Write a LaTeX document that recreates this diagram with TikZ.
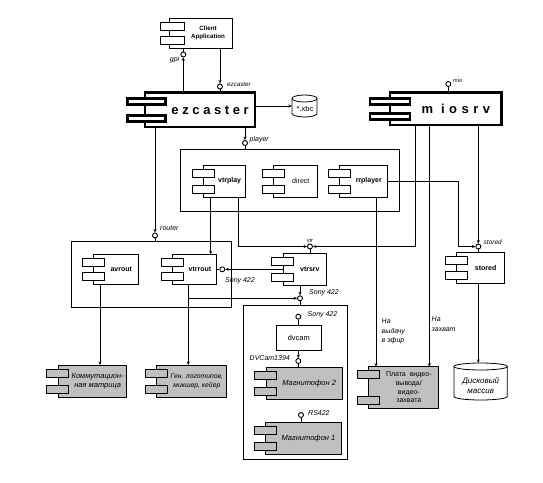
\documentclass[tikz,border=0pt]{standalone}
\usepackage{fontspec}
\setmainfont{Liberation Sans}
\usetikzlibrary{arrows.meta,calc}
\definecolor{boxgray}{RGB}{192,192,192}
\newcommand\boxnode[6]{\node[#6,minimum width={#4-#2},minimum height={#5-#3}] (#1) at ({(#2+#4)/2},{(#3+#5)/2}) {};}
\newcommand\comp[9]{%
 \node[body,#6,minimum width={#4-#2},minimum height={#5-#3}] (#1) at ({(#2+#4)/2},{(#3+#5)/2}) {};
 \draw[crect,#6] ({#2-#9},{#3+\ra}) rectangle ({#2-#9+\rw},{#3+\ra+\rh});
 \draw[crect,#6] ({#2-#9},{#5-\ra-\rh}) rectangle ({#2-#9+\rw},{#5-\ra});
 \node[ctext,#7] (#1-t) at ({(#2-#9+\rw+#4)/2},{(#3+#5)/2}) {#8};}
\newcommand\cyl[4]{% x1 y1 x2 y2
 \pgfmathsetmacro\crx{(#3-#1)/2}
 \draw[line width=0.8pt,fill=white] (#1,{#2+3.5}) -- (#1,{#4-3.5})
   arc[start angle=180,end angle=360,x radius=\crx pt,y radius=3.5pt]
   -- (#3,{#2+3.5}) arc[start angle=0,end angle=180,x radius=\crx pt,y radius=3.5pt] -- cycle;
 \draw[line width=0.8pt] (#1,{#2+3.5}) arc[start angle=180,end angle=360,x radius=\crx pt,y radius=3.5pt];}
\tikzset{
 body/.style={draw,line width=0.8pt,fill=white,inner sep=0,outer sep=0,rectangle},
 crect/.style={draw,line width=0.8pt,fill=white},
 heavy/.style={line width=2.6pt},
 grayc/.style={fill=boxgray},
 ctext/.style={font=\bfseries\fontsize{7}{8}\selectfont,inner sep=0,align=center},
 gtext/.style={font=\itshape\fontsize{7.5}{9}\selectfont,inner sep=0,align=center},
 lolli/.style={circle,draw,line width=0.9pt,fill=white,minimum size=5pt,inner sep=0},
 lbl/.style={font=\itshape\fontsize{7}{9.5}\selectfont,inner sep=0},
 tinylbl/.style={font=\itshape\fontsize{5.5}{6.5}\selectfont,inner sep=0},
 arr/.style={-{Stealth[length=3.5pt,width=3pt]}},
 grp/.style={draw,line width=0.8pt,inner sep=0,outer sep=0,rectangle},
 ln/.style={line width=0.8pt},
}
\begin{document}
\begin{tikzpicture}[x=1pt,y=-1pt]
\fill[white] (0,0) rectangle (543,482);
\useasboundingbox (0,0) rectangle (543,482);

% group boxes
\boxnode{plyG}{180}{149.3}{399}{211}{grp}
\boxnode{rtG}{71.7}{241.7}{231.7}{307.3}{grp}
\boxnode{dvG}{243.3}{305.7}{347.3}{459}{grp}

% components
\def\ra{4}\def\rh{8}\def\rw{23.3}
\comp{client}{169}{18}{232}{48}{}{font=\bfseries\fontsize{6.2}{8}\selectfont}{Client\\Application}{8.3}
\def\ra{5.5}\def\rh{6}\def\rw{38}
\comp{ezcaster}{145}{92.7}{255}{127}{heavy}{font=\bfseries\fontsize{13}{13}\selectfont}{e z c a s t e r}{17.7}
\def\rw{40}
\comp{miosrv}{390}{92.7}{501.7}{125}{heavy}{font=\bfseries\fontsize{13}{13}\selectfont}{m\hspace{8pt}i\hspace{4.5pt}o\hspace{4.5pt}s\hspace{4.5pt}r\hspace{4.5pt}v}{20}
\def\ra{4}\def\rh{8}\def\rw{22}
\comp{vtrplay}{203.3}{165}{245}{197}{}{}{vtrplay}{11}
\comp{direct}{273.3}{165}{317.3}{197}{}{font=\fontsize{7}{8}\selectfont}{direct}{11}
\comp{rrplayer}{339.3}{165}{387.3}{197}{}{}{rrplayer}{11}
\comp{avrout}{93.3}{254.3}{138.3}{284.3}{}{}{avrout}{11}
\comp{vtrrout}{172.3}{254.3}{216.7}{284.3}{}{}{vtrrout}{11}
\comp{vtrsrv}{283.3}{253.3}{326}{285.7}{}{}{vtrsrv}{11.6}
\comp{stored}{456.7}{252.3}{504.3}{283.3}{}{}{stored}{11.7}
\comp{komm}{58.3}{365}{126.7}{397.7}{grayc}{gtext}{Коммутацион-\\ная матрица}{11.6}
\comp{gen}{156}{365}{226.7}{397.7}{grayc}{gtext,font=\itshape\fontsize{6.8}{9}\selectfont}{Ген. логотипов,\\микшер, кейер}{11}
\comp{plata}{368.3}{366.7}{438.3}{408.3}{grayc}{font=\fontsize{7}{8.6}\selectfont}{Плата\ \ видео-\\вывода/\\видео-\\захвата}{11}
\comp{mag2}{266}{367.3}{342.3}{399.3}{grayc}{gtext}{Магнитофон 2}{12}
\comp{mag1}{265}{422.7}{341}{454}{grayc}{gtext}{Магнитофон 1}{11}

\node[draw,line width=0.8pt,fill=white,minimum width=44.3,minimum height=25,inner sep=0,font=\fontsize{7.5}{8}\selectfont] (dvcam) at (298.85,337.5) {dvcam};

% cylinders
\node[inner sep=0,minimum width=25,minimum height=22] (xbc) at (304.5,106) {};
\cyl{292}{95}{317}{117}
\node[inner sep=0,font=\fontsize{7.5}{8}\selectfont] (xbc-t) at (305,108.5) {*.xbc};
\node[inner sep=0,minimum width=53.3,minimum height=37] (disk) at (480.65,381.5) {};
\cyl{454}{363}{507.3}{400}
\node[inner sep=0,align=center,font=\itshape\fontsize{8}{10}\selectfont] (disk-t) at (480.7,386) {Дисковый\\массив};

% interfaces
\node[lolli] (gpiL) at (183.3,54.5) {};
\node[lolli] (ezcL) at (220,86.5) {};
\node[lolli] (plyL) at (245,143) {};
\node[lolli] (rtL) at (155,235.5) {};
\node[lolli] (mioL) at (448.3,84) {};
\node[lolli] (vtrL) at (310,246.5) {};
\node[lolli] (storedL) at (478.3,246.5) {};
\node[lolli] (vtrroutL) at (222.3,269.3) {};
\node[lolli] (sonyL2) at (300,298.3) {};
\node[lolli] (sonyL3) at (298.3,316.7) {};
\node[lolli] (dvL) at (298.3,361) {};
\node[lolli] (rsL) at (301,415) {};

% interface labels
\node[lbl,anchor=east] (gpi-t) at (179.5,60) {gpi};
\node[lbl,anchor=west,font=\itshape\fontsize{6.2}{7}\selectfont] (ezc-t) at (227,85) {ezcaster};
\node[lbl,anchor=west] (ply-t) at (249.5,139.5) {player};
\node[lbl,anchor=west] (rt-t) at (160,228) {router};
\node[tinylbl,anchor=west] (mio-t) at (453,80.5) {mio};
\node[tinylbl] (vtr-t) at (310,240.5) {vtr};
\node[lbl,anchor=west,font=\itshape\fontsize{6.5}{7}\selectfont] (stored-t) at (483.5,242.5) {stored};
\node[lbl,anchor=west] (s1-t) at (225,281) {Sony 422};
\node[lbl,anchor=west] (s2-t) at (309,293) {Sony 422};
\node[lbl,anchor=west] (s3-t) at (307.5,315) {Sony 422};
\node[lbl,anchor=east] (dv-t) at (290,358.5) {DVCam1394};
\node[lbl,anchor=west] (rs-t) at (308,413.3) {RS422};
\node[lbl,anchor=north west,align=left] (air-t) at (381.5,318.5) {На\\выдачу\\в эфир};
\node[lbl,anchor=north west,align=left] (cap-t) at (431.5,316.5) {На\\захват};

% connectors
\draw[ln] (gpiL) -- (client.south -| gpiL);
\draw[ln,arr] (ezcaster.north -| gpiL) -- (gpiL);
\draw[ln,arr] (client.south -| ezcL) -- (ezcL);
\draw[ln] (ezcL) -- (ezcaster.north -| ezcL);
\draw[ln,arr] (ezcaster.east |- xbc) -- (xbc.west);
\draw[ln,arr] (ezcaster.south -| plyL) -- (plyL);
\draw[ln] (plyL) -- (plyG.north -| plyL);
\draw[ln,arr] (ezcaster.south -| rtL) -- (rtL);
\draw[ln] (rtL) -- (rtG.north -| rtL);
\draw[ln] (mioL) -- (miosrv.north -| mioL);

\draw[ln,arr] ([xshift=7.4pt]vtrplay.south west) coordinate (vp1) -- (vp1 |- vtrrout.north);
\draw[ln,arr] ([xshift=-6.7pt]vtrplay.south east) |- (vtrL.west);
\draw[ln,arr] ([xshift=25pt]miosrv.south west) |- (vtrL.east);
\draw[ln] (vtrL) -- (vtrsrv.north -| vtrL);
\draw[ln,arr] ([xshift=39.3pt]miosrv.south west) coordinate (ms2) -- (ms2 |- plata.north);
\draw[ln,arr] (miosrv.south -| storedL) -- (storedL);
\draw[ln] (storedL) -- (stored.north -| storedL);
\draw[ln,arr] (rrplayer.east) -- ++(71,0) |- (storedL.west);
\draw[ln,arr] ([xshift=-11.3pt]rrplayer.south east) coordinate (rp1) -- (rp1 |- plata.north);
\draw[ln,arr] (stored.south -| storedL) -- (disk.north -| storedL);

\draw[ln] (vtrrout.east) -- (vtrroutL);
\draw[ln,arr] (vtrsrv.west |- vtrroutL) -- (vtrroutL);
\draw[ln,arr] (vtrsrv.south -| sonyL2) -- (sonyL2);
\draw[ln] (sonyL2) -- (dvG.north -| sonyL2);
\draw[line width=1.3pt,arr] ([xshift=16pt]vtrrout.south west) coordinate (vr1) -- (vr1 |- gen.north);
\draw[ln,arr] (vr1 |- sonyL2) -- (sonyL2.west);
\draw[ln,arr] ([xshift=6.7pt]avrout.south west) coordinate (av1) -- (av1 |- komm.north);

\draw[ln] (sonyL3) -- (dvcam.north -| sonyL3);
\draw[ln,arr] (dvcam.south -| dvL) -- (dvL);
\draw[ln] (dvL) -- (mag2.north -| dvL);
\draw[ln] (rsL) -- (mag1.north -| rsL);
\end{tikzpicture}
\end{document}
